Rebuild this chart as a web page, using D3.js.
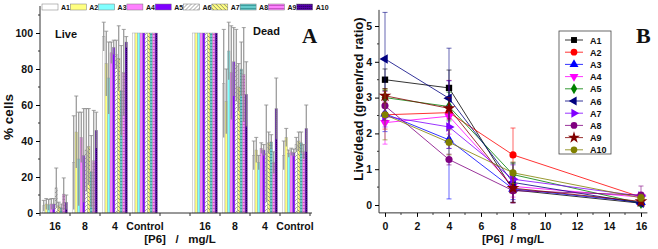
<!DOCTYPE html>
<html>
<head>
<meta charset="utf-8">
<script src="https://cdn.jsdelivr.net/npm/d3@7"></script>
<style>
  body { margin: 0; background: #fff; }
  svg { display: block; font-family: "Liberation Sans", Arial, sans-serif; }
  text { font-weight: bold; }
</style>
</head>
<body>
<div id="chart-area"></div>
<script>
const W = 658, H = 249

// ---- panel A data ----
const seriesNames = ["A1", "A2", "A3", "A4", "A5", "A6", "A7", "A8", "A9", "A10"]
const groupLabels = ["16", "8", "4", "Control", "16", "8", "4", "Control"]
const live16   = [4, 5, 4.5, 5, 5, 14, 4, 3, 10.5, 6]
const live16Sd = [3, 3, 3, 3, 3, 11, 2, 2, 9, 4]
const live8    = [28, 45, 30, 42, 32, 35, 37, 23, 29, 46]
const live8Sd  = [26, 20, 26, 14, 26, 23, 21, 20, 28, 10]
const live4    = [98, 83, 75, 89, 92, 88, 86, 68, 78, 95]
const live4Sd  = [8, 18, 20, 6, 4, 8, 18, 25, 24, 3]
const liveCtl  = [100, 100, 100, 100, 100, 100, 100, 100, 100, 100]
const dead16   = [100, 100, 100, 100, 100, 100, 100, 100, 100, 100]
const dead8    = [72, 62, 90, 78, 84, 82, 70, 80, 77, 66]
const dead8Sd  = [30, 18, 16, 26, 19, 20, 13, 15, 26, 18]
const dead4    = [32, 35, 28, 36, 35, 33, 39, 39.5, 28, 58]
const dead4Sd  = [8, 7, 4, 3, 3, 27, 6, 4, 6, 17]
const deadCtl  = [32, 42, 33, 34, 33.5, 38, 40, 39, 34, 47]
const deadCtlSd = [8, 5, 2, 2, 2, 4, 5, 6, 4, 13]
const zeros = seriesNames.map(() => 0)

const groupMeans = [live16, live8, live4, liveCtl, dead16, dead8, dead4, deadCtl]
const groupSds = [live16Sd, live8Sd, live4Sd, zeros, zeros, dead8Sd, dead4Sd, deadCtlSd]

// ---- panel B data ----
const doses = [0, 4, 8, 16]
const ratioA1 = [3.5, 3.27, 0.42, 0.05],  errA1 = [0.3, 0.5, 0.35, 0.05]
const ratioA2 = [2.52, 2.58, 1.4, 0.22],  errA2 = [0.4, 0.9, 0.75, 0.1]
const ratioA3 = [2.55, 1.82, 0.45, 0.08], errA3 = [0.5, 1.65, 0.3, 0.05]
const ratioA4 = [2.3, 2.48, 0.52, 0.22],  errA4 = [0.6, 0.5, 0.3, 0.1]
const ratioA5 = [3.0, 2.75, 0.85, 0.05],  errA5 = [0.25, 0.4, 0.3, 0.05]
const ratioA6 = [4.08, 2.98, 0.63, 0.05], errA6 = [1.3, 1.4, 0.55, 0.05]
const ratioA7 = [2.48, 2.18, 0.72, 0.25], errA7 = [0.3, 0.6, 0.4, 0.1]
const ratioA8 = [2.77, 1.27, 0.4, 0.28],  errA8 = [0.4, 0.15, 0.35, 0.25]
const ratioA9 = [3.05, 2.7, 0.47, 0.1],   errA9 = [0.2, 0.3, 0.4, 0.1]
const ratioA10 = [2.52, 1.75, 0.9, 0.2],  errA10 = [0.7, 0.35, 0.3, 0.1]

const ratios = [ratioA1, ratioA2, ratioA3, ratioA4, ratioA5, ratioA6, ratioA7, ratioA8, ratioA9, ratioA10]
const ratioErrs = [errA1, errA2, errA3, errA4, errA5, errA6, errA7, errA8, errA9, errA10]

const svg = d3.select("#chart-area").append("svg")
  .attr("width", W)
  .attr("height", H)

// ---- patterns for bars ----
const defs = svg.append("defs")
function hatch(id, bg, stroke, d, size) {
  const p = defs.append("pattern")
    .attr("id", id)
    .attr("patternUnits", "userSpaceOnUse")
    .attr("width", size).attr("height", size)
  p.append("rect").attr("width", size).attr("height", size).attr("fill", bg)
  p.append("path").attr("d", d).attr("stroke", stroke).attr("stroke-width", 0.7).attr("fill", "none")
}
hatch("pA6", "#ffffff", "#777", "M0,4 L4,0 M-1,1 L1,-1 M3,5 L5,3", 4)
hatch("pA7", "#ffff80", "#666", "M0,0 L4,4 M-1,3 L1,5 M3,-1 L5,1", 4)
hatch("pA8", "#66cccc", "#2a8a8a", "M0,1.5 L3,1.5", 3)
hatch("pA9", "#ff80ff", "#b040b0", "M0,1.5 L3,1.5", 3)
const pd = defs.append("pattern").attr("id", "pA10").attr("patternUnits", "userSpaceOnUse")
  .attr("width", 2).attr("height", 2)
pd.append("rect").attr("width", 2).attr("height", 2).attr("fill", "#5500aa")
pd.append("rect").attr("width", 1).attr("height", 1).attr("fill", "#220055")

const barFills = ["#ffffff", "#ffff80", "#80ffff", "#ff80ff", "#7f00ff",
  "url(#pA6)", "url(#pA7)", "url(#pA8)", "url(#pA9)", "url(#pA10)"]

// ================= PANEL A =================
const slots = [0, 1, 2, 3, 5, 6, 7, 8]
const xA = d3.scaleBand().domain(d3.range(9)).range([40, 310])
const xInner = d3.scaleBand().domain(seriesNames).range([0, xA.bandwidth()])
  .paddingInner(0).paddingOuter(1)
const yA = d3.scaleLinear().domain([0, 100]).range([213, 33])

const barData = []
groupMeans.forEach((arr, g) => arr.forEach((v, i) => barData.push({
  g, s: seriesNames[i], i, v, sd: groupSds[g][i]
})))

svg.append("g")
  .selectAll("rect")
  .data(barData)
  .join("rect")
    .attr("x", d => xA(slots[d.g]) + xInner(d.s))
    .attr("width", xInner.bandwidth())
    .attr("y", d => yA(d.v))
    .attr("height", d => yA(0) - yA(d.v))
    .attr("fill", d => barFills[d.i])
    .attr("stroke", "#999")
    .attr("stroke-width", 0.4)

// error bars
const eb = svg.append("g")
  .attr("stroke", "#8a8a8a")
  .attr("stroke-width", 1.1)
  .selectAll("g")
  .data(barData.filter(d => d.sd > 0))
  .join("g")
eb.append("line")
  .attr("x1", d => xA(slots[d.g]) + xInner(d.s) + xInner.bandwidth() / 2)
  .attr("x2", d => xA(slots[d.g]) + xInner(d.s) + xInner.bandwidth() / 2)
  .attr("y1", d => yA(Math.max(0, d.v - d.sd)))
  .attr("y2", d => yA(d.v + d.sd))
eb.append("line")
  .attr("x1", d => xA(slots[d.g]) + xInner(d.s) + xInner.bandwidth() / 2 - 2)
  .attr("x2", d => xA(slots[d.g]) + xInner(d.s) + xInner.bandwidth() / 2 + 2)
  .attr("y1", d => yA(d.v + d.sd))
  .attr("y2", d => yA(d.v + d.sd))
  .attr("stroke-width", 0.8)

// y axis A
const yAxisA = svg.append("g")
  .attr("transform", "translate(40,0)")
  .call(d3.axisLeft(yA).tickValues([0, 20, 40, 60, 80, 100]).tickSize(4).tickSizeOuter(0))
yAxisA.select(".domain").attr("d", `M0,${yA(0)}V${yA(115)}`).attr("stroke", "#333")
yAxisA.selectAll(".tick text").attr("font-size", 10.5).attr("font-weight", "bold").attr("fill", "#111")
svg.append("g")
  .attr("transform", "translate(40,0)")
  .selectAll("line")
  .data([10, 30, 50, 70, 90, 110])
  .join("line")
    .attr("x1", -2).attr("x2", 0)
    .attr("y1", d => yA(d)).attr("y2", d => yA(d))
    .attr("stroke", "#333")

// x axis A
const xAxisA = svg.append("g").attr("transform", `translate(0,${yA(0)})`)
xAxisA.append("line").attr("x1", 40).attr("x2", 312).attr("stroke", "#333")
xAxisA.selectAll("line.tk")
  .data(d3.range(10))
  .join("line")
    .attr("class", "tk")
    .attr("x1", d => 40 + d * xA.step()).attr("x2", d => 40 + d * xA.step())
    .attr("y1", 0).attr("y2", 3)
    .attr("stroke", "#333")
xAxisA.selectAll("text")
  .data(groupLabels)
  .join("text")
    .attr("x", (d, g) => xA(slots[g]) + xA.bandwidth() / 2)
    .attr("y", 17)
    .attr("text-anchor", "middle")
    .attr("font-size", 10.5)
    .attr("fill", "#111")
    .text(d => d)

svg.append("text")
  .attr("x", 180).attr("y", 243)
  .attr("text-anchor", "middle")
  .attr("font-size", 11.5)
  .attr("fill", "#111")
  .style("white-space", "pre")
  .text("[P6]   /   mg/L")

svg.append("text")
  .attr("transform", "translate(13,117) rotate(-90)")
  .attr("text-anchor", "middle")
  .attr("font-size", 13.5)
  .attr("fill", "#111")
  .text("% cells")

svg.append("text").attr("x", 55).attr("y", 38).attr("font-size", 11).attr("fill", "#111").text("Live")
svg.append("text").attr("x", 253).attr("y", 35).attr("font-size", 11).attr("fill", "#111").text("Dead")
svg.append("text").attr("x", 302).attr("y", 43)
  .attr("font-family", "'Liberation Serif', 'Times New Roman', serif")
  .attr("font-size", 21).attr("fill", "#111").text("A")

// legend A
const legA = svg.append("g")
  .selectAll("g")
  .data(seriesNames)
  .join("g")
    .attr("transform", (d, i) => `translate(${42 + i * 28.3},4)`)
legA.append("rect")
  .attr("width", 16).attr("height", 6)
  .attr("fill", (d, i) => barFills[i])
  .attr("stroke", "#777").attr("stroke-width", 0.5)
legA.append("text")
  .attr("x", 19).attr("y", 6)
  .attr("font-size", 7)
  .attr("fill", "#111")
  .text(d => d)

// ================= PANEL B =================
const xB = d3.scaleLinear().domain([0, 16]).range([385, 641])
const yB = d3.scaleLinear().domain([0, 5]).range([205, 26])
const colors = ["#000000", "#ff0000", "#0000ff", "#ff00ff", "#008000",
  "#000080", "#8000ff", "#800080", "#800000", "#808000"]
const symbols = [
  { t: d3.symbolSquare, r: 0 },
  { t: d3.symbolCircle, r: 0 },
  { t: d3.symbolTriangle, r: 0 },
  { t: d3.symbolTriangle, r: 180 },
  { t: d3.symbolDiamond, r: 0 },
  { t: d3.symbolTriangle, r: -90 },
  { t: d3.symbolTriangle, r: 90 },
  { t: d3.symbolCircle, r: 0 },
  { t: d3.symbolStar, r: 0 },
  { t: d3.symbolCircle, r: 0 }
]

const seriesB = ratios.map((arr, i) => ({
  name: seriesNames[i], i,
  pts: arr.map((v, k) => ({ x: doses[k], v, e: ratioErrs[i][k] }))
}))

const lineB = d3.line().x(d => xB(d.x)).y(d => yB(d.v))

const gB = svg.append("g")
  .selectAll("g")
  .data(seriesB)
  .join("g")
    .attr("stroke", d => colors[d.i])
    .attr("fill", d => colors[d.i])

// error bars
gB.each(function (s) {
  const g = d3.select(this)
  s.pts.forEach(p => {
    const x = xB(p.x)
    g.append("line").attr("x1", x).attr("x2", x)
      .attr("y1", yB(p.v - p.e)).attr("y2", yB(p.v + p.e))
      .attr("stroke-width", 0.6)
    ;[p.v - p.e, p.v + p.e].forEach(v => g.append("line")
      .attr("x1", x - 2.5).attr("x2", x + 2.5)
      .attr("y1", yB(v)).attr("y2", yB(v))
      .attr("stroke-width", 0.6))
  })
})

gB.append("path")
  .attr("fill", "none")
  .attr("stroke-width", 0.8)
  .attr("d", d => lineB(d.pts))

gB.each(function (s) {
  d3.select(this).selectAll("path.m")
    .data(s.pts)
    .join("path")
      .attr("class", "m")
      .attr("stroke", "none")
      .attr("transform", p => `translate(${xB(p.x)},${yB(p.v)}) rotate(${symbols[s.i].r})`)
      .attr("d", d3.symbol(symbols[s.i].t, s.i === 8 ? 50 : 40))
})

// axes B
const yAxisB = svg.append("g")
  .attr("transform", "translate(379,0)")
  .call(d3.axisLeft(yB).ticks(6).tickSize(4).tickSizeOuter(0))
yAxisB.select(".domain").attr("d", `M0,${yB(-0.22)}V${yB(5.45)}`).attr("stroke", "#333")
yAxisB.selectAll(".tick text").attr("font-size", 10.5).attr("fill", "#111")
svg.append("g")
  .attr("transform", "translate(379,0)")
  .selectAll("line")
  .data(d3.range(0.5, 5.5, 1))
  .join("line")
    .attr("x1", -2).attr("x2", 0)
    .attr("y1", d => yB(d)).attr("y2", d => yB(d))
    .attr("stroke", "#333")

const xAxisB = svg.append("g")
  .attr("transform", `translate(0,${yB(-0.22)})`)
  .call(d3.axisBottom(xB).tickValues(d3.range(0, 17, 2)).tickSize(4).tickSizeOuter(0))
xAxisB.select(".domain").attr("d", `M379,0H${xB(16.4)}`).attr("stroke", "#333")
xAxisB.selectAll(".tick text").attr("font-size", 10.5).attr("fill", "#111").attr("y", 17).attr("dy", null)
svg.append("g")
  .attr("transform", `translate(0,${yB(-0.22)})`)
  .selectAll("line")
  .data(d3.range(1, 17, 2))
  .join("line")
    .attr("x1", d => xB(d)).attr("x2", d => xB(d))
    .attr("y1", 0).attr("y2", 2)
    .attr("stroke", "#333")

svg.append("text")
  .attr("x", 513).attr("y", 243)
  .attr("text-anchor", "middle")
  .attr("font-size", 11.5)
  .attr("fill", "#111")
  .style("white-space", "pre")
  .text("[P6]  / mg/L")

svg.append("text")
  .attr("transform", "translate(363,99) rotate(-90)")
  .attr("text-anchor", "middle")
  .attr("font-size", 13)
  .attr("fill", "#111")
  .text("Live/dead (green/red ratio)")

svg.append("text").attr("x", 636).attr("y", 43)
  .attr("font-family", "'Liberation Serif', 'Times New Roman', serif")
  .attr("font-size", 22).attr("fill", "#111").text("B")

// legend B
svg.append("rect")
  .attr("x", 559).attr("y", 31).attr("width", 52).attr("height", 123)
  .attr("fill", "#fff").attr("stroke", "#444").attr("stroke-width", 0.8)
const legB = svg.append("g")
  .selectAll("g")
  .data(seriesB)
  .join("g")
    .attr("transform", (d, i) => `translate(574,${40 + i * 12.2})`)
legB.append("line")
  .attr("x1", -9).attr("x2", 9)
  .attr("stroke", d => colors[d.i]).attr("stroke-width", 0.8)
legB.append("path")
  .attr("transform", d => `rotate(${symbols[d.i].r})`)
  .attr("fill", d => colors[d.i])
  .attr("d", d => d3.symbol(symbols[d.i].t, d.i === 8 ? 45 : 35)())
legB.append("text")
  .attr("x", 16).attr("y", 3.5)
  .attr("font-size", 9)
  .attr("fill", "#111")
  .text(d => d.name)
</script>
</body>
</html>
